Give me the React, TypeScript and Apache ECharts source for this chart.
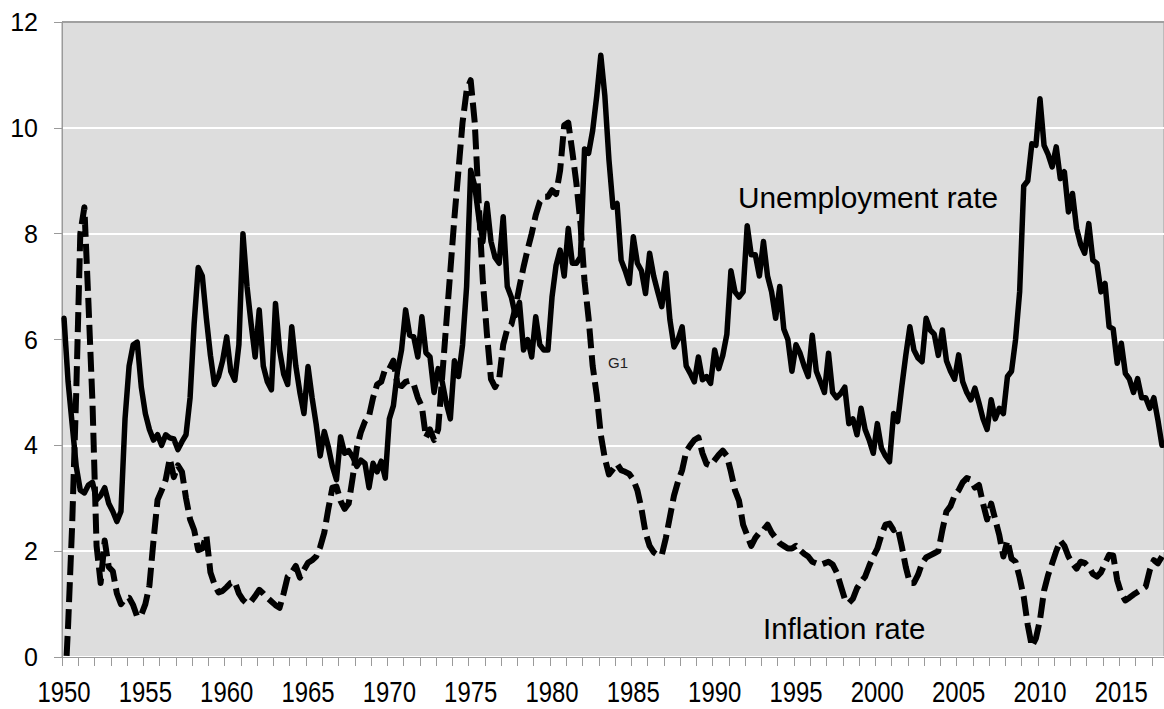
import React, { useEffect, useRef } from "react";
import * as echarts from "echarts";

const START_YEAR = 1950;
const Y_MIN = 0;
const Y_MAX = 12;
const Y_STEP = 2;
const LABEL_EVERY_QUARTERS = 20;

// Quarterly unemployment rate, 1950Q1 .. 2017Q3 (one row per year, Q1..Q4)
const unemployment: number[] = [
  6.4, 5.2, 4.4, 3.6,
  3.15, 3.1, 3.25, 3.3,
  2.97, 3.05, 3.2, 2.9,
  2.75, 2.56, 2.75, 4.5,
  5.5, 5.9, 5.95, 5.1,
  4.6, 4.3, 4.1, 4.2,
  4.0, 4.2, 4.14, 4.12,
  3.92, 4.07, 4.2, 4.9,
  6.3, 7.36, 7.2, 6.4,
  5.7, 5.15, 5.3, 5.6,
  6.05, 5.4, 5.23, 5.9,
  8.0, 7.0, 6.3, 5.67,
  6.56, 5.5, 5.2, 5.05,
  6.68, 5.8, 5.35, 5.15,
  6.24, 5.5, 5.0, 4.6,
  5.49, 4.9, 4.4, 3.8,
  4.26, 3.97, 3.6, 3.35,
  4.16, 3.85, 3.9, 3.78,
  3.6, 3.72, 3.66, 3.2,
  3.66, 3.5, 3.7, 3.38,
  4.5, 4.75, 5.4, 5.8,
  6.56, 6.08, 6.05, 5.67,
  6.43, 5.75, 5.67, 5.0,
  5.45, 5.2, 4.8, 4.5,
  5.6, 5.3, 5.9, 7.0,
  9.2, 8.9, 8.3, 7.85,
  8.57, 7.85, 7.55, 7.44,
  8.32, 7.0, 6.8, 6.45,
  6.7, 5.8, 6.0, 5.67,
  6.43, 5.9, 5.8, 5.8,
  6.8, 7.4, 7.69, 7.2,
  8.1, 7.44, 7.44, 7.56,
  9.6, 9.52, 9.95, 10.6,
  11.37, 10.6, 9.4, 8.5,
  8.57, 7.5, 7.3, 7.06,
  7.94, 7.44, 7.3, 6.87,
  7.63, 7.2, 6.9, 6.62,
  7.25, 6.37, 5.86, 6.0,
  6.24, 5.5, 5.36, 5.2,
  5.67, 5.24, 5.3, 5.17,
  5.8, 5.45, 5.7, 6.1,
  7.3, 6.9, 6.8, 6.9,
  8.15, 7.6, 7.6, 7.2,
  7.85, 7.2, 6.9, 6.4,
  7.0, 6.2, 6.0, 5.4,
  5.9, 5.74, 5.5, 5.3,
  6.08, 5.4, 5.2, 5.0,
  5.74, 5.0, 4.9, 4.98,
  5.1, 4.41, 4.5, 4.2,
  4.7, 4.3, 4.1, 3.85,
  4.41, 3.95, 3.8, 3.69,
  4.6, 4.45, 5.1, 5.7,
  6.24, 5.8, 5.65, 5.58,
  6.4, 6.18, 6.1, 5.7,
  6.18, 5.6, 5.4, 5.25,
  5.71, 5.2, 5.0, 4.86,
  5.08, 4.8, 4.5, 4.3,
  4.86, 4.5, 4.7, 4.6,
  5.3, 5.4, 6.0, 6.9,
  8.9, 9.0, 9.7, 9.67,
  10.55, 9.67, 9.5, 9.26,
  9.64, 9.04, 9.17, 8.41,
  8.76, 8.1, 7.8, 7.63,
  8.19, 7.5, 7.44, 6.9,
  7.06, 6.24, 6.2, 5.55,
  5.93, 5.36, 5.25, 5.0,
  5.26, 4.9, 4.9, 4.7,
  4.9, 4.48, 4.0,
];

// Quarterly inflation rate, 1950Q1 .. 2017Q3
const inflation: number[] = [
  -1.0, 0.6, 2.5, 5.0,
  8.0, 8.5, 6.7, 4.8,
  2.1, 1.4, 2.2, 1.7,
  1.62, 1.2, 1.0, 1.1,
  1.12, 0.98, 0.76, 0.8,
  1.0, 1.35, 2.2, 2.97,
  3.15, 3.35, 3.75, 3.4,
  3.62, 3.5, 3.0, 2.6,
  2.4, 2.02, 2.05, 2.3,
  1.6, 1.37, 1.22, 1.25,
  1.32, 1.4, 1.42, 1.2,
  1.08, 1.01, 1.05, 1.15,
  1.27, 1.2, 1.12, 1.05,
  0.98, 0.93, 1.2, 1.52,
  1.6, 1.72, 1.5, 1.65,
  1.78, 1.83, 1.9, 2.08,
  2.35, 2.8, 3.2, 3.22,
  2.95, 2.8, 2.9, 3.4,
  3.95, 4.25, 4.45, 4.55,
  4.9, 5.15, 5.2, 5.45,
  5.45, 5.6, 5.15, 5.12,
  5.2, 5.22, 5.15, 4.9,
  4.73, 4.15, 4.3, 4.1,
  4.3, 5.3, 6.3, 7.3,
  8.3, 9.2, 10.1, 10.7,
  10.9, 10.1, 8.55, 7.1,
  6.1, 5.25, 5.1, 5.25,
  5.9, 6.2, 6.28, 6.6,
  7.0, 7.37, 7.7, 8.0,
  8.35, 8.6, 8.7, 8.7,
  8.82, 8.75, 9.2, 10.05,
  10.1, 9.55, 8.95, 8.2,
  7.1, 6.4, 5.5, 4.95,
  4.2, 3.75, 3.45, 3.55,
  3.65, 3.53, 3.5, 3.46,
  3.35, 3.15, 2.8, 2.35,
  2.1, 1.98, 1.93, 1.93,
  2.25, 2.65, 3.05, 3.32,
  3.53, 3.88, 4.0, 4.1,
  4.15, 3.85, 3.65, 3.62,
  3.72, 3.82, 3.9, 3.8,
  3.5, 3.15, 2.95, 2.5,
  2.3, 2.1, 2.25, 2.35,
  2.4, 2.5, 2.35, 2.25,
  2.15, 2.1, 2.05, 2.05,
  2.1, 2.02, 1.95, 1.9,
  1.8, 1.77, 1.74, 1.77,
  1.8, 1.75, 1.6, 1.35,
  1.1, 1.02, 1.1, 1.3,
  1.42, 1.52, 1.72, 1.9,
  2.05, 2.3, 2.5, 2.52,
  2.4, 2.45, 2.1, 1.7,
  1.4, 1.4, 1.55, 1.77,
  1.88, 1.92, 1.96, 2.0,
  2.4, 2.75, 2.85, 3.05,
  3.15, 3.3, 3.38, 3.35,
  3.2, 3.25, 2.9, 2.6,
  2.9, 2.6, 2.3, 1.9,
  2.2, 1.86, 1.8, 1.5,
  1.14, 0.6, 0.2, 0.35,
  0.7, 1.25, 1.55, 1.77,
  2.0, 2.2, 2.1, 1.9,
  1.77, 1.67, 1.8, 1.78,
  1.7, 1.57, 1.52, 1.6,
  1.77, 1.93, 1.92, 1.45,
  1.2, 1.07, 1.12, 1.18,
  1.23, 1.28, 1.33, 1.64,
  1.83, 1.77, 1.9,
];

const quarters: string[] = unemployment.map(
  (_, i) => `${START_YEAR + Math.floor(i / 4)}Q${(i % 4) + 1}`
);

const seriesNames = ["Unemployment rate", "Inflation rate"];
const extraLabel = "G1";

export default function App() {
  const ref = useRef<HTMLDivElement>(null);

  useEffect(() => {
    document.body.style.margin = "0";
    if (!ref.current) return;
    const chart = echarts.init(ref.current, null, { renderer: "svg" });
    const font = "'Liberation Sans', Arial, sans-serif";
    chart.setOption({
      animation: false,
      backgroundColor: "#ffffff",
      grid: {
        left: 62,
        right: 0,
        top: 22,
        bottom: 52,
        show: true,
        backgroundColor: "#dddddd",
        borderColor: "#9a9a9a",
        borderWidth: 1,
      },
      xAxis: {
        type: "category",
        data: quarters,
        boundaryGap: true,
        axisLine: { show: true, lineStyle: { color: "#9a9a9a", width: 1 } },
        axisTick: {
          show: true,
          interval: (i: number) => i % 4 === 0,
          length: 9,
          lineStyle: { color: "#9a9a9a", width: 1 },
        },
        axisLabel: { show: false },
        splitLine: { show: false },
      },
      yAxis: {
        type: "value",
        min: Y_MIN,
        max: Y_MAX,
        interval: Y_STEP,
        axisLine: { show: true, lineStyle: { color: "#9a9a9a", width: 1 } },
        axisTick: { show: true, length: 8, lineStyle: { color: "#9a9a9a", width: 1 } },
        axisLabel: {
          fontSize: 25,
          fontFamily: font,
          color: "#000000",
          margin: 24,
        },
        splitLine: {
          show: true,
          lineStyle: {
            color: ["#ffffff", "#ffffff", "#ffffff", "#ffffff", "#ffffff", "#ffffff", "#a0a0a0"],
            width: 2,
          },
        },
      },
      series: [
        {
          name: seriesNames[0],
          type: "line",
          data: unemployment,
          symbol: "none",
          showSymbol: false,
          clip: true,
          z: 3,
          lineStyle: { color: "#000000", width: 5.5, join: "round", cap: "round" },
        },
        {
          name: seriesNames[1],
          type: "line",
          data: inflation,
          symbol: "none",
          showSymbol: false,
          clip: true,
          z: 2,
          lineStyle: { color: "#000000", width: 6, type: [20, 7], join: "round" },
        },
      ],
    });

    // Year labels on the category axis, positioned through the axis scale,
    // drawn as horizontally condensed text (the original uses a narrow face).
    const yearLabels: any[] = [];
    const labelY = chart.getHeight() - 52 + 35.5;
    quarters.forEach((q, i) => {
      if (i % LABEL_EVERY_QUARTERS !== 0) return;
      const px = chart.convertToPixel({ xAxisIndex: 0 }, q) as number;
      yearLabels.push({
        type: "group",
        x: px,
        y: labelY,
        scaleX: 0.81,
        z: 10,
        children: [
          {
            type: "text",
            x: 0,
            y: 0,
            style: {
              text: q.slice(0, 4),
              font: `29.5px ${font}`,
              fill: "#000000",
              textAlign: "center",
              textVerticalAlign: "middle",
            },
          },
        ],
      });
    });

    chart.setOption({
      graphic: [
        ...yearLabels,
        {
          type: "text",
          x: 738,
          y: 197.5,
          z: 10,
          style: {
            text: seriesNames[0],
            font: `29.8px ${font}`,
            fill: "#000000",
            textAlign: "left",
            textVerticalAlign: "middle",
          },
        },
        {
          type: "text",
          x: 763,
          y: 628,
          z: 10,
          style: {
            text: seriesNames[1],
            font: `29.5px ${font}`,
            fill: "#000000",
            textAlign: "left",
            textVerticalAlign: "middle",
          },
        },
        {
          type: "text",
          x: 608,
          y: 362,
          z: 10,
          style: {
            text: extraLabel,
            font: `15px ${font}`,
            fill: "#222222",
            textAlign: "left",
            textVerticalAlign: "middle",
          },
        },
      ],
    });
    return () => chart.dispose();
  }, []);

  return <div ref={ref} style={{ width: 1164, height: 709 }} />;
}
